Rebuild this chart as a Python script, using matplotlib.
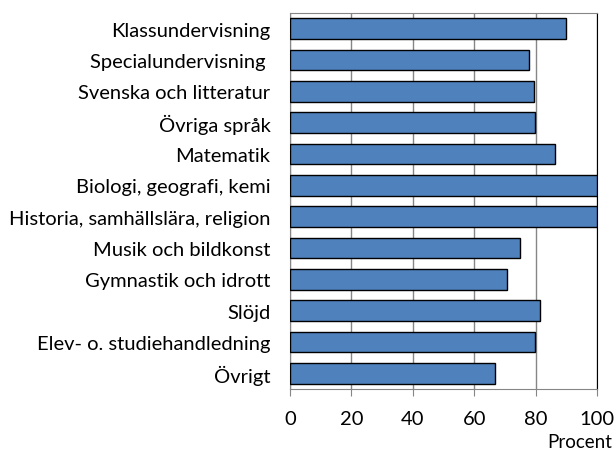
import matplotlib
matplotlib.use("Agg")
import matplotlib.pyplot as plt

# categories top to bottom
categories = [
    "Klassundervisning",
    "Specialundervisning ",
    "Svenska och litteratur",
    "Övriga språk",
    "Matematik",
    "Biologi, geografi, kemi",
    "Historia, samhällslära, religion",
    "Musik och bildkonst",
    "Gymnastik och idrott",
    "Slöjd",
    "Elev- o. studiehandledning",
    "Övrigt",
]
values = [89.8, 77.7, 79.3, 79.8, 86.1, 100, 100, 74.9, 70.5, 81.2, 79.8, 66.7]
x_ticks = [0, 20, 40, 60, 80, 100]

plt.rcParams["font.family"] = ["Lato", "DejaVu Sans"]

fig = plt.figure(figsize=(6.16, 4.52), dpi=100)
ax = fig.add_axes([290 / 616, 1 - 390 / 452, (597.3 - 290) / 616, (390 - 14) / 452])

pos = list(range(len(categories)))
ax.barh(pos, values, height=0.66, color="#4F81BD", edgecolor="black", linewidth=1.0, zorder=3)
ax.set_ylim(len(categories) - 0.5, -0.5)
ax.set_xlim(0, 100)
ax.set_xticks(x_ticks)
ax.set_xticklabels([str(t) for t in x_ticks], fontsize=14.5)
ax.set_yticks(pos)
ax.set_yticklabels(categories, fontsize=14.5)
ax.tick_params(axis="y", length=0, pad=14)
ax.tick_params(axis="x", length=5, color="#868686", pad=10)
ax.grid(axis="x", color="#868686", linewidth=1.0, zorder=0)

for side in ["left", "bottom", "top"]:
    ax.spines[side].set_color("#868686")
ax.spines["right"].set_color("black")

fig.text(612 / 616, 1 - 443 / 452, "Procent", ha="right", va="center", fontsize=13.5)

fig.savefig("out.png", dpi=100)
